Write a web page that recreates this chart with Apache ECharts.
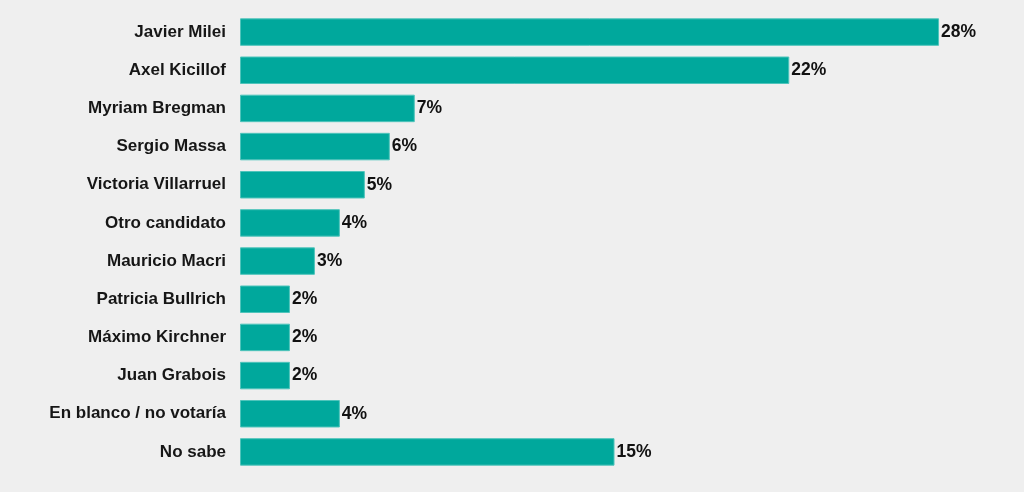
<!DOCTYPE html>
<html>
  <head>
    <title>encuesta</title>
    <script src="https://cdn.jsdelivr.net/npm/echarts@6/dist/echarts.min.js"></script>
    <style>
      html, body { margin: 0; padding: 0; background: #efefef; }
    </style>
  </head>
  <body>
    <div id="main" style="width: 1024px; height: 492px"></div>
    <script>
      var candidatos = [
        "Javier Milei",
        "Axel Kicillof",
        "Myriam Bregman",
        "Sergio Massa",
        "Victoria Villarruel",
        "Otro candidato",
        "Mauricio Macri",
        "Patricia Bullrich",
        "Máximo Kirchner",
        "Juan Grabois",
        "En blanco / no votaría",
        "No sabe",
      ];
      var valores = [28, 22, 7, 6, 5, 4, 3, 2, 2, 2, 4, 15];

      var myChart = echarts.init(document.getElementById("main"));
      var option = {
        backgroundColor: "#efefef",
        animation: false,
        grid: { left: 240, top: 13, width: 749, bottom: 21 },
        xAxis: {
          type: "value",
          min: 0,
          max: 30,
          show: false,
        },
        yAxis: {
          type: "category",
          inverse: true,
          data: candidatos,
          axisLine: { show: false },
          axisTick: { show: false },
          axisLabel: {
            margin: 14,
            color: "#161616",
            fontFamily: "Liberation Sans, Arial, sans-serif",
            fontWeight: "bold",
            fontSize: 17,
          },
        },
        series: [
          {
            type: "bar",
            data: valores,
            barCategoryGap: "28%",
            itemStyle: {
              color: "#00a89c",
              borderColor: "#4fc4bb",
              borderWidth: 1,
            },
            label: {
              show: true,
              position: "right",
              distance: 2,
              formatter: "{c}%",
              color: "#111",
              fontFamily: "Liberation Sans, Arial, sans-serif",
              fontWeight: "bold",
              fontSize: 17.5,
            },
          },
        ],
      };
      myChart.setOption(option);
    </script>
  </body>
</html>
